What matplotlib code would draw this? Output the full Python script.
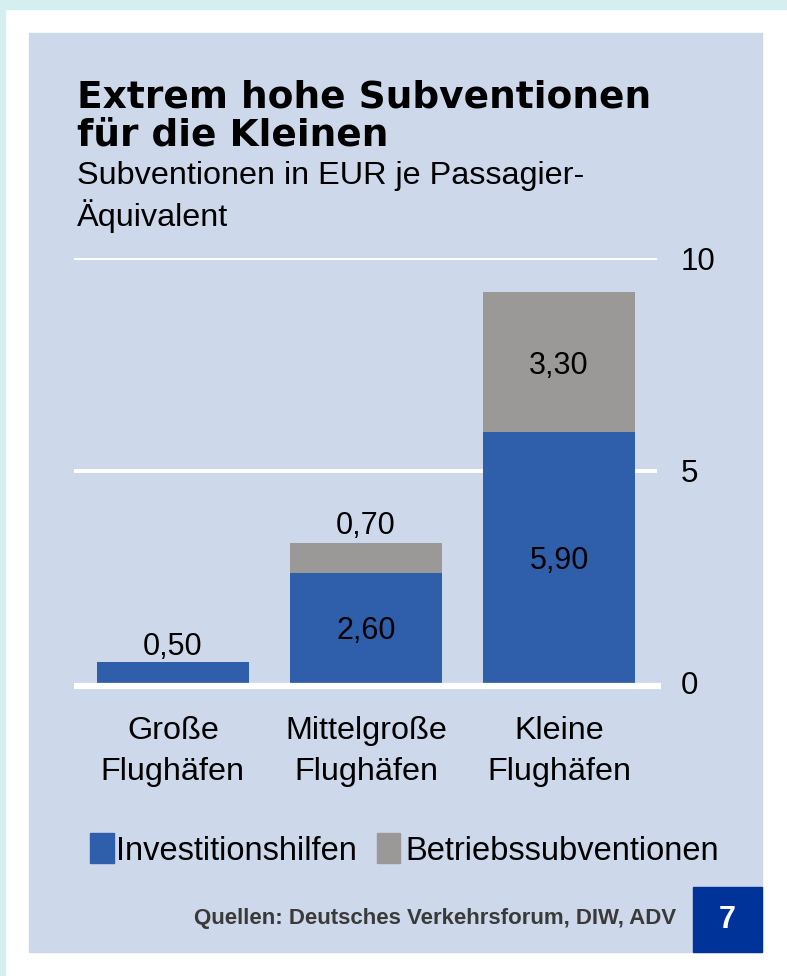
import numpy as np
import matplotlib.pyplot as plt
from matplotlib.patches import Rectangle

# data
categories = ['Große\nFlughäfen', 'Mittelgroße\nFlughäfen', 'Kleine\nFlughäfen']
investition = [0.50, 2.60, 5.90]
betrieb = [0.00, 0.70, 3.30]
yticks = [0, 5, 10]
series_names = ['Investitionshilfen', 'Betriebssubventionen']

BLUE = '#2f5eab'
GREY = '#9a9998'
PANEL = '#cdd8ea'
BADGE = '#00339a'
CYAN = '#d5eef2'

W, H = 787, 976
fig = plt.figure(figsize=(W / 100, H / 100), dpi=100, facecolor='white')


def fx(x):
    return x / W


def fy(y):
    return 1 - y / H


def rect(x0, y0, x1, y1, color):
    fig.patches.append(Rectangle((fx(x0), fy(y1)), fx(x1) - fx(x0), fy(y0) - fy(y1),
                                 transform=fig.transFigure, color=color, zorder=-1))


# frame and panel
rect(0, 0, W, 9, CYAN)
rect(0, 0, 5, H, CYAN)
rect(29, 33, 762, 952, PANEL)
rect(693, 887, 762, 952, BADGE)

sans = 'Liberation Sans'

# title / subtitle
fig.text(fx(77), fy(107), 'Extrem hohe Subventionen', family='DejaVu Sans',
         weight='bold', fontsize=27, va='baseline', ha='left')
fig.text(fx(77), fy(145), 'für die Kleinen', family='DejaVu Sans',
         weight='bold', fontsize=27, va='baseline', ha='left')
fig.text(fx(77), fy(184), 'Subventionen in EUR je Passagier-', family=sans,
         fontsize=23.3, va='baseline', ha='left')
fig.text(fx(77), fy(226), 'Äquivalent', family=sans,
         fontsize=23.3, va='baseline', ha='left')

# axes
ax = fig.add_axes([fx(74), fy(683), fx(657) - fx(74), fy(258) - fy(683)])
ax.set_zorder(2)
ax.set_facecolor('none')
x = np.arange(len(categories))
width = 0.785

for v in [5, 10]:
    ax.axhline(v, color='white', lw=2.8, zorder=1)
ax.plot([-0.512, 2.53], [-0.06, -0.06], color='white', lw=4.5, zorder=3,
        clip_on=False, solid_capstyle='butt')

b1 = ax.bar(x, investition, width, color=BLUE, zorder=2)
b2 = ax.bar(x, betrieb, width, bottom=investition, color=GREY, zorder=2)

for i in range(len(x)):
    inv, bet = investition[i], betrieb[i]
    lbl_inv = f'{inv:.2f}'.replace('.', ',')
    lbl_bet = f'{bet:.2f}'.replace('.', ',')
    if bet == 0:
        ax.annotate(lbl_inv, (x[i], inv), xytext=(0, 5), textcoords='offset points',
                    ha='center', va='baseline', fontsize=22, family=sans, zorder=4)
    elif bet < 1:
        ax.text(x[i], inv / 2, lbl_inv, ha='center', va='center_baseline',
                fontsize=22, family=sans, zorder=4)
        ax.annotate(lbl_bet, (x[i], inv + bet), xytext=(0, 6), textcoords='offset points',
                    ha='center', va='baseline', fontsize=22, family=sans, zorder=4)
    else:
        ax.text(x[i], inv / 2, lbl_inv, ha='center', va='center_baseline',
                fontsize=22, family=sans, zorder=4)
        ax.text(x[i], inv + bet / 2, lbl_bet, ha='center', va='center_baseline',
                fontsize=22, family=sans, zorder=4)

ax.set_xlim(-0.512, 2.507)
ax.set_ylim(0, 10)
ax.yaxis.tick_right()
ax.set_yticks(yticks)
ax.set_yticklabels([str(t) for t in yticks], family=sans, fontsize=22.5)
ax.tick_params(axis='y', length=0, pad=17)
ax.set_xticks(x)
ax.set_xticklabels(categories, family=sans, fontsize=23.3, linespacing=1.45)
ax.tick_params(axis='x', length=0, pad=24)
for s in ax.spines.values():
    s.set_visible(False)

# legend
rect(90, 833, 114, 863, BLUE)
rect(377, 833, 400, 863, GREY)
fig.text(fx(116), fy(848), series_names[0], family=sans, fontsize=23.5,
         va='center_baseline', ha='left')
fig.text(fx(405), fy(848), series_names[1], family=sans, fontsize=23.5,
         va='center_baseline', ha='left')

# source and badge
fig.text(fx(676), fy(916), 'Quellen: Deutsches Verkehrsforum, DIW, ADV', family=sans,
         weight='bold', fontsize=16, color='#3a3a3a', va='center_baseline', ha='right')
fig.text(fx(727), fy(916), '7', family=sans, weight='bold', fontsize=22,
         color='white', va='center_baseline', ha='center')

fig.savefig('out.png', dpi=100, facecolor='white')
